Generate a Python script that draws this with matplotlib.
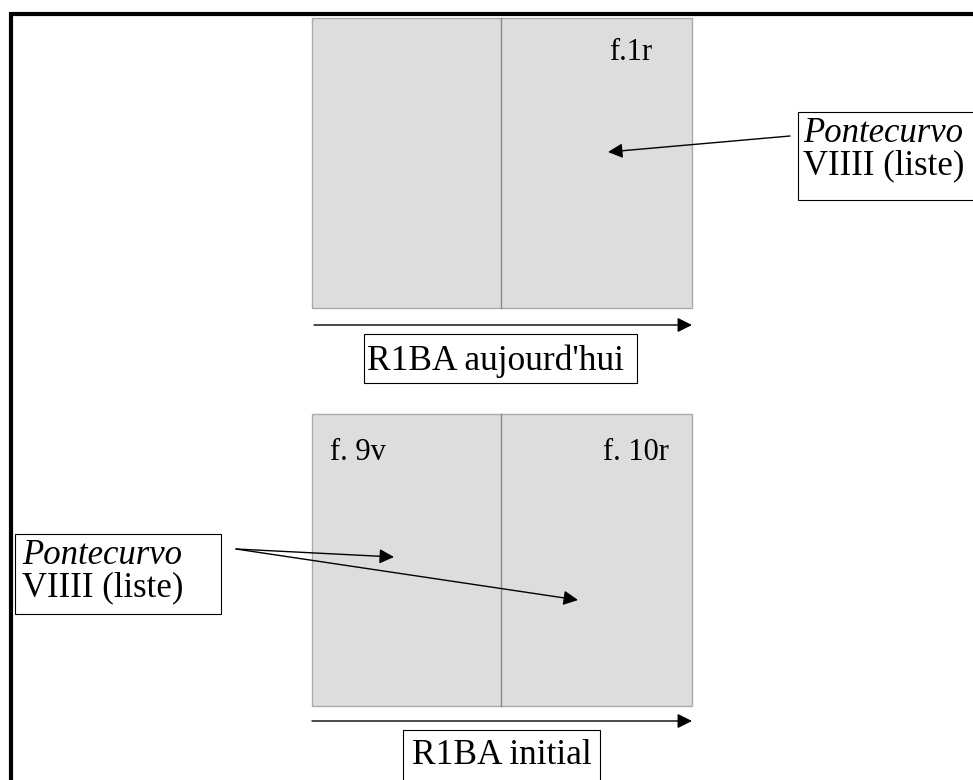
import matplotlib.pyplot as plt
from matplotlib.patches import Rectangle

plt.rcParams['font.family'] = ['Liberation Serif', 'DejaVu Serif']

# sheets: (left, top, width, height, divider x) in pixel units
sheets = [(312, 18, 380, 290, 501), (312, 414, 380, 292, 501)]
timeline_y = [325, 721]
timeline_x = [(314, 692), (312, 692)]

folio_labels = ["f.1r", "f. 9v", "f. 10r"]
folio_pos = [(609, 52), (330, 452), (603, 452)]

box_labels = ["R1BA aujourd'hui", "R1BA initial"]
box_rects = [(364, 334, 273, 49), (403, 730, 197, 60)]
box_text_pos = [(367, 361), (412, 756)]

note_title = "Pontecurvo"
note_line = "VIIII (liste)"
note_rects = [(798, 112, 180, 88), (15, 534, 206, 80)]
note_text_pos = [(803, 134, 166), (22, 556, 588)]
note_arrows = [((790, 136), (608, 152)),
               ((236, 549), (394, 557)),
               ((236, 549), (578, 600))]

fig = plt.figure(figsize=(9.73, 7.8), dpi=100)
ax = fig.add_axes([0, 0, 1, 1])
ax.set_xlim(0, 973)
ax.set_ylim(780, 0)
ax.axis('off')

# outer frame (top and left visible)
ax.plot([11, 973], [13.5, 13.5], color='black', lw=3, solid_capstyle='butt')
ax.plot([11, 11], [12, 780], color='black', lw=3, solid_capstyle='butt')

for x, y, w, h, d in sheets:
    ax.add_patch(Rectangle((x, y), w, h, facecolor='#dddddd',
                           edgecolor='#aaaaaa', lw=1))
    ax.plot([d, d], [y, y + h], color='#888888', lw=1)

for y, (x0, x1) in zip(timeline_y, timeline_x):
    ax.annotate('', xy=(x1, y), xytext=(x0, y),
                arrowprops=dict(arrowstyle='-|>', color='black', lw=1,
                                mutation_scale=22, shrinkA=0, shrinkB=0))

for t, (x, y) in zip(folio_labels, folio_pos):
    ax.text(x, y, t, fontsize=22, va='center', ha='left')

for t, (x, y, w, h), (tx, ty) in zip(box_labels, box_rects, box_text_pos):
    ax.add_patch(Rectangle((x, y), w, h, facecolor='white',
                           edgecolor='black', lw=0.8, clip_on=False))
    ax.text(tx, ty, t, fontsize=25.5, va='center', ha='left')

for (x, y, w, h), (tx, ty1, ty2) in zip(note_rects, note_text_pos):
    ax.add_patch(Rectangle((x, y), w, h, facecolor='white',
                           edgecolor='black', lw=0.8))
    ax.text(tx, ty1, note_title, fontsize=25, fontstyle='italic',
            va='center', ha='left')
    ax.text(tx, ty2, note_line, fontsize=25, va='center', ha='left')

for start, end in note_arrows:
    ax.annotate('', xy=end, xytext=start,
                arrowprops=dict(arrowstyle='-|>', color='black', lw=1,
                                mutation_scale=22, shrinkA=0, shrinkB=0))

fig.savefig('out.png', dpi=100)
